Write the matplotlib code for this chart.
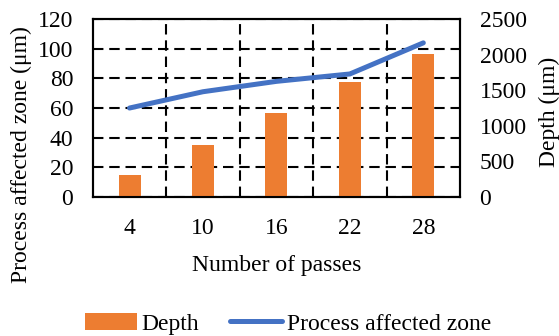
import numpy as np
import matplotlib.pyplot as plt
from matplotlib.ticker import FixedLocator

# data
passes = ["4", "10", "16", "22", "28"]
depth = [310, 730, 1185, 1620, 2005]          # um, right axis (bars)
affected_zone = [60, 71, 78, 83, 104]         # um, left axis (line)

orange = "#ED7D31"
blue = "#4472C4"

plt.rcParams['font.family'] = ['Liberation Serif', 'DejaVu Serif']
plt.rcParams['font.size'] = 17

fig = plt.figure(figsize=(5.59, 3.36), dpi=100)
ax = fig.add_axes([0.166, 0.414, 0.657, 0.529])
x = np.arange(len(passes))

# left axis: process affected zone line + grid
ax.set_xlim(-0.5, len(passes) - 0.5)
ax.set_ylim(0, 120)
ax.set_yticks(np.arange(0, 121, 20))
ax.set_xticks(x)
ax.set_xticklabels(passes)
ax.xaxis.set_minor_locator(FixedLocator(x[:-1] + 0.5))
dash = (0, (5, 2.8))
ax.grid(True, axis='y', which='major', color='black', linestyle=dash, linewidth=1.5)
ax.grid(True, axis='x', which='minor', color='black', linestyle=dash, linewidth=1.5)
ax.tick_params(axis='both', which='both', length=0)
ax.tick_params(axis='x', pad=15)
ax.tick_params(axis='y', pad=14)
ax.set_ylabel("Process affected zone (\u03bcm)")
# label sits low in the reference, not centred on the axis
ax.yaxis.set_label_coords(-0.166, 0.236)
ax.set_xlabel("Number of passes", labelpad=12)
line, = ax.plot(x, affected_zone, color=blue, linewidth=3.6, solid_capstyle='round',
                label="Process affected zone", zorder=3)
for s in ax.spines.values():
    s.set_linewidth(1.5)

# right axis: depth bars
ax2 = ax.twinx()
ax2.set_ylim(0, 2500)
ax2.set_yticks(np.arange(0, 2501, 500))
ax2.tick_params(axis='y', length=0, pad=14)
bars = ax2.bar(x, depth, width=0.3, color=orange, label="Depth")
ax2.set_ylabel("Depth (\u03bcm)")
ax2.yaxis.set_label_coords(1.215, 0.478)
for s in ax2.spines.values():
    s.set_linewidth(1.5)

fig.legend([bars, line], ["Depth", "Process affected zone"], loc='center',
           bbox_to_anchor=(0.515, 0.036), ncol=2, frameon=False,
           handlelength=2.2, handletextpad=0.2, columnspacing=1.3, borderaxespad=0)

fig.savefig("out.png", dpi=100)
